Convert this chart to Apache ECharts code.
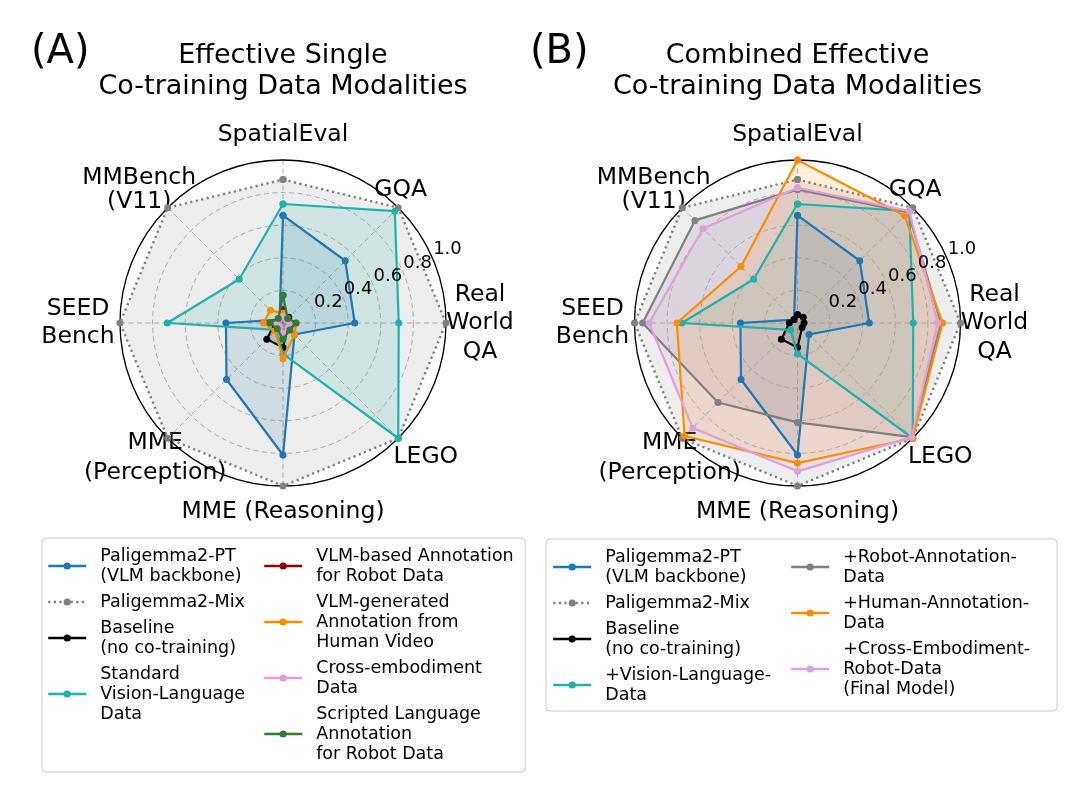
<!DOCTYPE html>
<html>
<head>
<meta charset="utf-8">
<script src="https://cdn.jsdelivr.net/npm/echarts@6/dist/echarts.min.js"></script>
<style>
html,body{margin:0;padding:0;background:#ffffff;}
#chart{width:1080px;height:804px;}
</style>
</head>
<body>
<div id="chart"></div>
<script>
// ---- categories (clockwise from top) ----
const benchmarks = ['SpatialEval', 'GQA', 'Real\nWorld\nQA', 'LEGO', 'MME (Reasoning)', 'MME\n(Perception)', 'SEED\nBench', 'MMBench\n(V11)'];
const radialTicks = [0.2, 0.4, 0.6, 0.8, 1.0];

// ---- shared series ----
const paligemmaPT   = [0.66, 0.54, 0.44, 0.10, 0.81, 0.49, 0.35, 0.03];
const paligemmaMix  = [0.88, 1.00, 1.00, 1.00, 1.00, 1.00, 1.00, 1.00];
const baseline      = [0.05, 0.05, 0.04, 0.04, 0.15, 0.14, 0.05, 0.03];
const visionLang    = [0.73, 0.97, 0.71, 1.00, 0.19, 0.06, 0.71, 0.38];

// ---- panel A single modalities ----
const vlmRobotAnnot = [0.08, 0.04, 0.05, 0.05, 0.06, 0.04, 0.04, 0.04];
const humanVideo    = [0.06, 0.04, 0.08, 0.10, 0.22, 0.07, 0.12, 0.11];
const crossEmbodA   = [0.04, 0.03, 0.04, 0.04, 0.06, 0.03, 0.04, 0.03];
const scriptedLang  = [0.17, 0.04, 0.08, 0.06, 0.10, 0.05, 0.08, 0.04];

// ---- panel B combined ----
const plusRobotAnn  = [0.82, 0.96, 0.88, 0.99, 0.61, 0.69, 0.95, 0.89];
const plusHumanAnn  = [1.00, 0.93, 0.89, 1.00, 0.86, 0.98, 0.74, 0.49];
const plusCrossEmb  = [0.83, 0.97, 0.86, 0.99, 0.91, 0.91, 0.91, 0.82];

// ---- legend names ----
const N_PT = 'Paligemma2-PT\n(VLM backbone)';
const N_MIX = 'Paligemma2-Mix';
const N_BASE = 'Baseline\n(no co-training)';
const N_STD = 'Standard\nVision-Language\nData';
const N_VLMR = 'VLM-based Annotation\nfor Robot Data';
const N_HUM = 'VLM-generated\nAnnotation from\nHuman Video';
const N_CE = 'Cross-embodiment\nData';
const N_SCR = 'Scripted Language\nAnnotation\nfor Robot Data';
const N_VL = '+Vision-Language-\nData';
const N_ROB = '+Robot-Annotation-\nData';
const N_HA = '+Human-Annotation-\nData';
const N_FIN = '+Cross-Embodiment-\nRobot-Data\n(Final Model)';

const FONT = 'DejaVu Sans';
const C = {
  blue: '#1f77b4', gray: '#808080', black: '#000000', teal: '#20b2aa',
  darkred: '#8b0000', orange: '#ff8c00', plum: '#dda0dd', green: '#2e7d32'
};

const panelA = [
  [N_PT, paligemmaPT, C.blue, false],
  [N_MIX, paligemmaMix, C.gray, true],
  [N_BASE, baseline, C.black, false],
  [N_STD, visionLang, C.teal, false],
  [N_VLMR, vlmRobotAnnot, C.darkred, false],
  [N_HUM, humanVideo, C.orange, false],
  [N_CE, crossEmbodA, C.plum, false],
  [N_SCR, scriptedLang, C.green, false]
];
const panelB = [
  [N_PT, paligemmaPT, C.blue, false],
  [N_MIX, paligemmaMix, C.gray, true],
  [N_BASE, baseline, C.black, false],
  [N_VL, visionLang, C.teal, false],
  [N_ROB, plusRobotAnn, C.gray, false],
  [N_HA, plusHumanAnn, C.orange, false],
  [N_FIN, plusCrossEmb, C.plum, false]
];

const centerA = [283, 323];
const centerB = [797.5, 323];
const R = 163;

function polarData(values) {
  const step = 360 / benchmarks.length;
  const data = values.map((v, i) => [v, i * step]);
  data.push([values[0], 360]);
  return data;
}
function lineSeries(def, polarIndex, k) {
  const [name, values, color, dotted] = def;
  return {
    type: 'line', name, coordinateSystem: 'polar', polarIndex,
    data: polarData(values), symbol: 'circle', symbolSize: 7, showSymbol: true, clip: false,
    color,
    lineStyle: { width: dotted ? 2.4 : 2.2, color, type: dotted ? [2.2, 3.4] : 'solid' },
    itemStyle: { color },
    emphasis: { disabled: true },
    z: 4 + k * 0.01,
    animation: false
  };
}
function fillSeries(def, polarIndex, k) {
  const [name, values, color] = def;
  return {
    type: 'line', name: name + ' (area)', coordinateSystem: 'polar', polarIndex,
    data: polarData(values), symbol: 'none', showSymbol: false, clip: false,
    lineStyle: { width: 0, opacity: 0 },
    areaStyle: { color, opacity: 0.14 },
    emphasis: { disabled: true }, silent: true,
    z: 2 + k * 0.01,
    animation: false
  };
}

function gridPolarAxes(polarIndex) {
  return {
    angle: {
      polarIndex, type: 'value', min: 0, max: 360, interval: 45, startAngle: 90, clockwise: true,
      axisLine: { show: true, lineStyle: { color: '#000', width: 1.3 } },
      axisTick: { show: false }, axisLabel: { show: false },
      splitLine: { show: true, lineStyle: { color: '#b0b0b0', width: 1, type: [5, 3.5] } },
      z: 1
    },
    radius: {
      polarIndex, type: 'value', min: 0, max: 1, interval: 0.2,
      axisLine: { show: false }, axisTick: { show: false }, axisLabel: { show: false },
      splitLine: { show: true, lineStyle: { color: '#b0b0b0', width: 1, type: [5, 3.5] } }
    }
  };
}
function labelPolarAxes(polarIndex) {
  return {
    angle: { polarIndex, type: 'value', min: 0, max: 360, startAngle: 24, show: false },
    radius: {
      polarIndex, type: 'value', min: 0, max: 1, interval: radialTicks[1] - radialTicks[0],
      axisLine: { show: false }, axisTick: { show: false }, splitLine: { show: false },
      axisLabel: {
        show: true, margin: 0, align: 'center', verticalAlign: 'middle',
        fontSize: 18, color: '#000', fontFamily: FONT,
        formatter: v => radialTicks.some(t => Math.abs(t - v) < 1e-6) ? v.toFixed(1) : ''
      },
      z: 5
    }
  };
}

const gA = gridPolarAxes(0), lA = labelPolarAxes(1), gB = gridPolarAxes(2), lB = labelPolarAxes(3);

// small per-label nudges (dx, dy in px) to mimic matplotlib tick-label placement
const nameNudge = [[0, 4], [-18, 3], [5, 0], [7, -2], [0, -3], [8, -2], [-13, 0], [-8, 5]];
const nameRich = {};
benchmarks.forEach((b, i) => {
  const [dx, dy] = nameNudge[i];
  const base = { fontSize: 23.5, lineHeight: 28.5, fontFamily: FONT, color: '#000' };
  const padL = dx > 0 ? 2 * dx : 0, padR = dx < 0 ? -2 * dx : 0;
  nameRich['f' + i] = Object.assign({}, base, { padding: [dy > 0 ? 2 * dy : 0, padR, dy < 0 ? -2 * dy : 0, padL] });
  nameRich['r' + i] = Object.assign({}, base, { padding: [0, padR, 0, padL] });
});
function nameFormatter(name) {
  const i = benchmarks.indexOf(name);
  return name.split('\n').map((line, j) => '{' + (j === 0 ? 'f' : 'r') + i + '|' + line + '}').join('\n');
}

// radar indicator order is counter-clockwise in ECharts
const ccwOrder = [0, 7, 6, 5, 4, 3, 2, 1].map(i => benchmarks[i]);
function makeRadar(center) {
  return {
    center, radius: R, startAngle: 90, shape: 'circle', splitNumber: 5, nameGap: 29,
    indicator: ccwOrder.map(n => ({ name: n, min: 0, max: 1 })),
    axisName: { color: '#000', fontSize: 23.5, lineHeight: 28.5, fontFamily: FONT, align: 'center', verticalAlign: 'middle',
      formatter: nameFormatter, rich: nameRich },
    axisLine: { show: false }, splitLine: { show: false }, splitArea: { show: false },
    axisTick: { show: false }, axisLabel: { show: false }, silent: true
  };
}

const legendText = (w) => ({ fontSize: 17.5, lineHeight: 20, fontFamily: FONT, color: '#000', width: w, padding: [0, 0, 0, 9] });
const legendCommon = { orient: 'vertical', itemGap: 6, itemWidth: 38, itemHeight: 9, selectedMode: false, lineStyle: { width: 2.4 } };

const option = {
  animation: false,
  backgroundColor: '#ffffff',
  textStyle: { fontFamily: FONT },
  title: [
    { text: '(A)', left: 31, top: 33, padding: 0, textStyle: { fontSize: 40, lineHeight: 40, fontWeight: 'normal', fontFamily: FONT, color: '#000' } },
    { text: 'Effective Single\nCo-training Data Modalities', left: centerA[0], top: 40, textAlign: 'center', padding: 0,
      textStyle: { fontSize: 27, lineHeight: 31, fontWeight: 'normal', fontFamily: FONT, color: '#000' } },
    { text: '(B)', left: 530, top: 33, padding: 0, textStyle: { fontSize: 40, lineHeight: 40, fontWeight: 'normal', fontFamily: FONT, color: '#000' } },
    { text: 'Combined Effective\nCo-training Data Modalities', left: centerB[0], top: 40, textAlign: 'center', padding: 0,
      textStyle: { fontSize: 27, lineHeight: 31, fontWeight: 'normal', fontFamily: FONT, color: '#000' } }
  ],
  polar: [
    { center: centerA, radius: [0, R] },
    { center: centerA, radius: [17, R + 17] },
    { center: centerB, radius: [0, R] },
    { center: centerB, radius: [17, R + 17] }
  ],
  angleAxis: [gA.angle, lA.angle, gB.angle, lB.angle],
  radiusAxis: [gA.radius, lA.radius, gB.radius, lB.radius],
  radar: [makeRadar(centerA), makeRadar(centerB)],
  legend: [
    Object.assign({}, legendCommon, {
      left: 42, top: 538, padding: [8, 275, 48, 5],
      borderColor: '#cccccc', borderWidth: 1, borderRadius: 4, backgroundColor: 'rgba(255,255,255,0.8)',
      data: [N_PT, N_MIX, N_BASE, N_STD], textStyle: legendText(150)
    }),
    Object.assign({}, legendCommon, {
      left: 263, top: 546, padding: 0,
      data: [N_VLMR, N_HUM, N_CE, N_SCR], textStyle: legendText(205)
    }),
    Object.assign({}, legendCommon, {
      left: 546, top: 539, padding: [8, 286, 6, 6],
      borderColor: '#cccccc', borderWidth: 1, borderRadius: 4, backgroundColor: 'rgba(255,255,255,0.8)',
      data: [N_PT, N_MIX, N_BASE, N_VL], textStyle: legendText(150)
    }),
    Object.assign({}, legendCommon, {
      left: 790, top: 547, padding: 0,
      data: [N_ROB, N_HA, N_FIN], textStyle: legendText(205)
    })
  ],
  series: [
    ...panelA.map((d, k) => lineSeries(d, 0, k)),
    ...panelB.map((d, k) => lineSeries(d, 2, k)),
    ...panelA.map((d, k) => fillSeries(d, 0, k)),
    ...panelB.map((d, k) => fillSeries(d, 2, k))
  ]
};

const chart = echarts.init(document.getElementById('chart'), null, { renderer: 'canvas' });
chart.setOption(option);
</script>
</body>
</html>
